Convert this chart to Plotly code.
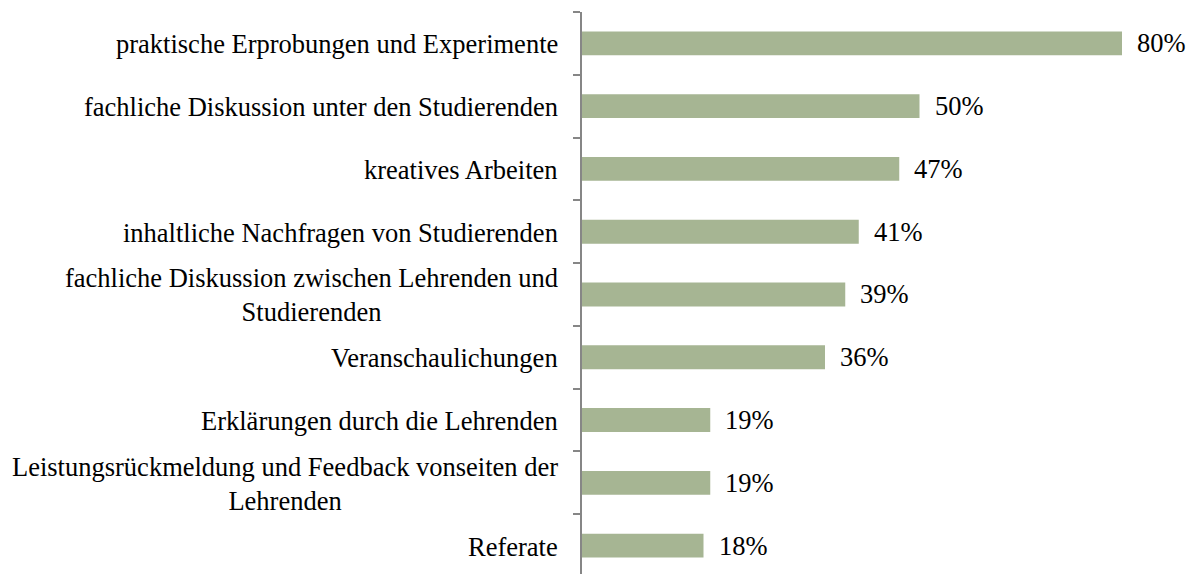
import plotly.graph_objects as go

categories = [
    "praktische Erprobungen und Experimente",
    "fachliche Diskussion unter den Studierenden",
    "kreatives Arbeiten",
    "inhaltliche Nachfragen von Studierenden",
    "fachliche Diskussion zwischen Lehrenden und<br>Studierenden",
    "Veranschaulichungen",
    "Erklärungen durch die Lehrenden",
    "Leistungsrückmeldung und Feedback vonseiten der<br>Lehrenden",
    "Referate",
]
values = [80, 50, 47, 41, 39, 36, 19, 19, 18]

BAR = "#A6B593"
AXIS = "#868686"
FONT = "Liberation Serif"
FSIZE = 26.5

fig = go.Figure()
fig.add_trace(go.Bar(
    x=values,
    y=categories,
    orientation="h",
    width=0.38,
    marker=dict(color=BAR, line=dict(width=0)),
    hoverinfo="skip",
))

# category labels (centred multi-line, right-anchored like the original)
for cat in categories:
    fig.add_annotation(
        x=0, xref="paper", y=cat, yref="y",
        text=cat, showarrow=False,
        xanchor="right", align="center",
        xshift=-22, yshift=-1,
        font=dict(family=FONT, size=FSIZE, color="#000000"),
    )

# value labels
for cat, v in zip(categories, values):
    fig.add_annotation(
        x=v, y=cat, text=f"{v}%", showarrow=False,
        xanchor="left", xshift=13,
        font=dict(family=FONT, size=FSIZE, color="#000000"),
    )

fig.update_layout(
    width=1195, height=574,
    margin=dict(l=574, r=0, t=4, b=0),
    paper_bgcolor="white", plot_bgcolor="white",
    showlegend=False,
    xaxis=dict(range=[0, 92.0], visible=False),
    yaxis=dict(
        categoryorder="array", categoryarray=categories,
        range=[8.58, -0.5],
        showticklabels=False,
        showline=True, linecolor=AXIS, linewidth=1.5,
        ticks="outside", tickson="boundaries", ticklen=7,
        tickcolor=AXIS, tickwidth=1.5,
        showgrid=False, zeroline=False,
    ),
)

fig.write_html("out.html")
